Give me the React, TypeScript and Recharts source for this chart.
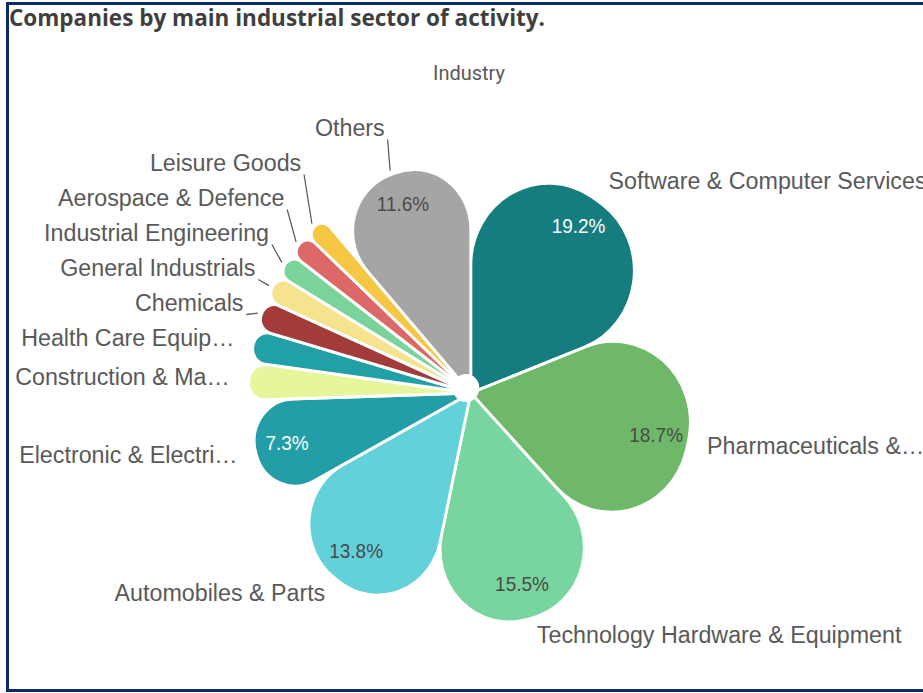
import { Cell, Pie, PieChart } from "recharts";

const SECTORS = [
  "Software & Computer Services",
  "Pharmaceuticals &…",
  "Technology Hardware & Equipment",
  "Automobiles & Parts",
  "Electronic & Electri…",
  "Construction & Ma…",
  "Health Care Equip…",
  "Chemicals",
  "General Industrials",
  "Industrial Engineering",
  "Aerospace & Defence",
  "Leisure Goods",
  "Others",
];

const SHARES = [19.2, 18.7, 15.5, 13.8, 7.3, 2.6, 2.3, 2.1, 1.9, 1.7, 1.7, 1.6, 11.6];

const COLORS = [
  "#157c80",
  "#6fb869",
  "#79d59f",
  "#62d1d9",
  "#239ea6",
  "#e8f59c",
  "#21a1a6",
  "#a33b3b",
  "#f5e38d",
  "#79d39b",
  "#dd6868",
  "#f6c744",
  "#a5a5a5",
];

const DARK_FILLS = ["#157c80", "#239ea6"];

const W = 923;
const H = 693;
const SVG_PAD = 60; // svg is wider than the page so scaled labels are not clipped
const SVG_W = W + 2 * SVG_PAD;
const CX = 466;
const CY = 388;
const R = 234;
const SQUASH = 0.95; // the original render is a bit narrower than tall
const LABEL_OFF = 20;
const LABEL_GAP = 35;
const RAD = Math.PI / 180;
const FONT = "'Liberation Sans', Arial, sans-serif";

const data = SECTORS.map((name, i) => ({ name, value: SHARES[i] }));
const total = SHARES.reduce((s, v) => s + v, 0);

// clockwise angle from 12 o'clock for the middle of each slice
const midTheta = SHARES.map((v, i) => {
  const before = SHARES.slice(0, i).reduce((s, x) => s + x, 0);
  return ((before + v / 2) / total) * 360;
});

// corner radius that turns each slice end into a round petal
function petalRadius(v: number) {
  const half = ((v / total) * 360 * RAD) / 2;
  const s = Math.sin(half);
  return ((R * s) / (1 + s)) * 0.97;
}

function labelYs(cy: number, r: number) {
  const ys = midTheta.map((t) => cy - (r + LABEL_OFF) * Math.cos(t * RAD));
  const left = midTheta
    .map((_, i) => i)
    .filter((i) => midTheta[i] > 180)
    .sort((a, b) => midTheta[a] - midTheta[b]);
  let prev = Infinity;
  left.forEach((i) => {
    ys[i] = Math.min(ys[i], prev - LABEL_GAP);
    prev = ys[i];
  });
  return ys;
}

function renderLabel(props: any) {
  const { cx, cy, outerRadius, index, percent, name } = props;
  const t = midTheta[index];
  const sx = Math.sin(t * RAD);
  const dy = -Math.cos(t * RAD);
  const isLeft = sx < 0;
  const x = cx + (outerRadius + LABEL_OFF) * sx + (isLeft ? 0 : 1);
  const natural = cy + (outerRadius + LABEL_OFF) * dy;
  const y = labelYs(cy, outerRadius)[index];
  const moved = y < natural - 1;
  const pct = percent * 100;
  const pr = outerRadius * 0.855;
  return (
    <g key={`lbl-${index}`}>
      {moved && (
        <line
          x1={cx + (outerRadius + 4) * sx}
          y1={cy + (outerRadius + 4) * dy}
          x2={x + (isLeft ? 3 : -3)}
          y2={y + 8}
          stroke="#595959"
          strokeWidth={1.3}
        />
      )}
      <text
        x={x}
        y={y + 5}
        textAnchor={isLeft ? "end" : "start"}
        fill="#595959"
        fontSize={24.5}
        fontFamily={FONT}
      >
        {name}
      </text>
      {pct >= 5 && (
        <text
          x={cx + pr * sx}
          y={cy + pr * dy + 5}
          textAnchor="middle"
          fill={DARK_FILLS.includes(COLORS[index]) ? "#ffffff" : "#4a4a4a"}
          fontSize={20}
          fontFamily={FONT}
        >
          {`${pct.toFixed(1)}%`}
        </text>
      )}
    </g>
  );
}

export default function App() {
  return (
    <div
      style={{
        position: "fixed",
        left: 0,
        top: 0,
        width: W,
        height: H,
        overflow: "hidden",
        background: "#fff",
      }}
    >
      <div
        style={{
          position: "absolute",
          left: 6,
          top: 2,
          width: 960,
          height: 690,
          boxSizing: "border-box",
          border: "3px solid #0c2a68",
        }}
      />
      <div
        style={{
          position: "absolute",
          left: 9,
          top: 6,
          fontFamily: "'Open Sans', sans-serif",
          fontWeight: 700,
          fontSize: 22.5,
          lineHeight: "24px",
          color: "#3f3f3f",
          whiteSpace: "nowrap",
        }}
      >
        Companies by main industrial sector of activity.
      </div>
      <div
        style={{
          position: "absolute",
          left: 469,
          top: 62,
          transform: "translateX(-50%)",
          fontFamily: "Roboto, sans-serif",
          fontSize: 20,
          lineHeight: "22px",
          color: "#595959",
        }}
      >
        Industry
      </div>
      <div
        style={{
          position: "absolute",
          left: -SVG_PAD,
          top: 0,
          transform: `scaleX(${SQUASH})`,
          transformOrigin: `${CX + SVG_PAD}px 0px`,
        }}
      >
        <PieChart width={SVG_W} height={H}>
          <Pie
            data={data}
            dataKey="value"
            nameKey="name"
            cx={CX + SVG_PAD}
            cy={CY}
            innerRadius={0}
            outerRadius={R}
            startAngle={90}
            endAngle={-270}
            stroke="#ffffff"
            strokeWidth={3}
            label={renderLabel}
            labelLine={false}
            isAnimationActive={false}
          >
            {data.map((d, i) => (
              <Cell
                key={`cell-${i}`}
                fill={COLORS[i]}
                cornerRadius={petalRadius(d.value)}
              />
            ))}
          </Pie>
        </PieChart>
        <div
          style={{
            position: "absolute",
            left: CX + SVG_PAD - 14,
            top: CY - 14,
            width: 28,
            height: 28,
            borderRadius: "50%",
            background: "#fff",
          }}
        />
      </div>
    </div>
  );
}
